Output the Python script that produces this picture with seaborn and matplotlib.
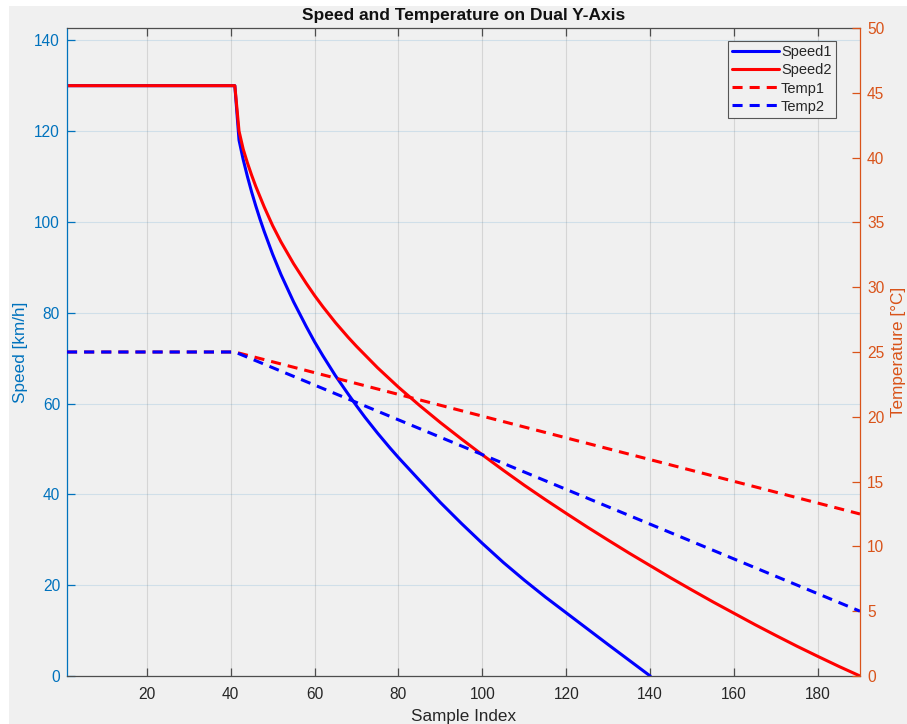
import matplotlib
matplotlib.use("Agg")
import matplotlib.pyplot as plt
import seaborn as sns
from matplotlib.patches import Rectangle

# Sample indices and values for the two speed profiles (km/h)
speed1_idx = [1, 41, 42, 43, 44, 45, 46, 47, 48, 50, 52, 55, 58, 60, 62, 65,
              68, 70, 72, 75, 78, 80, 85, 90, 95, 100, 105, 110, 115, 120,
              125, 130, 135, 140]
speed1 = [130, 130, 118, 113.7, 110, 106.6, 103.5, 100.6, 97.9, 92.9, 88.4,
          82.4, 77.0, 73.6, 70.5, 66.1, 62.1, 59.5, 57.0, 53.5, 50.2, 48.1,
          43.1, 38.2, 33.6, 29.2, 25.0, 21.1, 17.4, 13.9, 10.4, 6.9, 3.45, 0]

speed2_idx = [1, 41, 42, 43, 44, 45, 46, 48, 50, 52, 55, 58, 60, 62, 65, 68,
              70, 75, 80, 85, 90, 95, 100, 105, 110, 115, 120, 125, 130, 135,
              140, 145, 150, 155, 160, 165, 170, 175, 180, 185, 190]
speed2 = [130, 130, 120, 116, 113, 110.3, 107.8, 103.3, 99.2, 95.6, 90.8,
          86.5, 83.8, 81.3, 77.8, 74.6, 72.6, 67.9, 63.6, 59.6, 55.8, 52.2,
          48.7, 45.3, 42.0, 38.85, 35.8, 32.8, 29.9, 27.05, 24.3, 21.55,
          18.9, 16.3, 13.8, 11.3, 8.9, 6.55, 4.3, 2.1, 0]

# Temperatures (°C)
temp_idx = [1, 41, 190]
temp1 = [25, 25, 12.5]
temp2 = [25, 25, 5]

x_ticks = [20, 40, 60, 80, 100, 120, 140, 160, 180]
speed_ticks = [0, 20, 40, 60, 80, 100, 120, 140]
temp_ticks = [0, 5, 10, 15, 20, 25, 30, 35, 40, 45, 50]

BG = "#f0f0f0"
LEFT_C = "#0072BD"
RIGHT_C = "#D95319"
DARK = "#262626"
TICK_FS = 11.2
LABEL_FS = 12.3

sns.set_style("ticks", {"axes.facecolor": BG, "figure.facecolor": BG})
plt.rcParams["font.family"] = ["Liberation Sans", "DejaVu Sans"]
plt.rcParams["font.size"] = 11

fig = plt.figure(figsize=(9.07, 7.24), dpi=100, facecolor=BG)
ax = fig.add_axes([67 / 907, 1 - 676 / 724, 793 / 907, 648 / 724])
ax.set_facecolor(BG)
ax2 = ax.twinx()

solid_lw = 2.2
dash_style = (0, (3.3, 2.3))

sns.lineplot(x=speed1_idx, y=speed1, ax=ax, color="#0000ff", lw=solid_lw,
             label="Speed1", legend=False, sort=False, estimator=None)
sns.lineplot(x=speed2_idx, y=speed2, ax=ax, color="#ff0000", lw=solid_lw,
             label="Speed2", legend=False, sort=False, estimator=None)
sns.lineplot(x=temp_idx, y=temp1, ax=ax2, color="#ff0000", lw=solid_lw,
             linestyle=dash_style, label="Temp1", legend=False, sort=False,
             estimator=None)
sns.lineplot(x=temp_idx, y=temp2, ax=ax2, color="#0000ff", lw=solid_lw,
             linestyle=dash_style, label="Temp2", legend=False, sort=False,
             estimator=None)

for line in ax.get_lines() + ax2.get_lines():
    line.set_solid_joinstyle("round")

ax.set_xlim(1, 190)
ax.set_ylim(0, 142.7)
ax2.set_ylim(0, 50)
ax.set_xticks(x_ticks)
ax.set_yticks(speed_ticks)
ax2.set_yticks(temp_ticks)

# Grid: vertical lines neutral grey, horizontal lines tinted like the left axis
ax.grid(axis="x", color=DARK, alpha=0.13, lw=0.8)
ax.grid(axis="y", color=LEFT_C, alpha=0.13, lw=0.8)
ax.set_axisbelow(True)

# Spines and ticks
for side in ("top", "bottom"):
    ax.spines[side].set_color("#4d4d4d")
    ax.spines[side].set_linewidth(0.9)
ax.spines["left"].set_color(LEFT_C)
ax.spines["right"].set_visible(False)
ax2.spines["right"].set_color(RIGHT_C)
ax2.spines["left"].set_visible(False)
ax2.spines["top"].set_visible(False)
ax2.spines["bottom"].set_visible(False)
ax2.spines["right"].set_linewidth(0.9)
ax.spines["left"].set_linewidth(0.9)

ax.tick_params(axis="x", direction="in", top=True, length=5.5, width=0.9,
               color="#4d4d4d", labelcolor=DARK, labelsize=TICK_FS, pad=8)
ax.tick_params(axis="y", direction="in", length=5.5, width=0.9,
               color=LEFT_C, labelcolor=LEFT_C, labelsize=TICK_FS, pad=5)
ax2.tick_params(axis="y", direction="in", length=5.5, width=0.9,
                color=RIGHT_C, labelcolor=RIGHT_C, labelsize=TICK_FS, pad=5)

ax.set_xlabel("Sample Index", color=DARK, fontsize=LABEL_FS, labelpad=5)
ax.set_ylabel("Speed [km/h]", color=LEFT_C, fontsize=LABEL_FS)
ax.yaxis.set_label_coords(-0.049, 0.5)
ax2.set_ylabel("Temperature [°C]", color=RIGHT_C, fontsize=LABEL_FS)
ax2.yaxis.set_label_coords(1.039, 0.5)
ax.set_title("Speed and Temperature on Dual Y-Axis", fontsize=12.5,
             fontweight="bold", color="#111111", pad=6)

# Combined legend for both y-axes
h1, l1 = ax.get_legend_handles_labels()
h2, l2 = ax2.get_legend_handles_labels()
leg = ax2.legend(h1 + h2, l1 + l2, loc="upper right",
                 bbox_to_anchor=(0.9697, 0.980), borderaxespad=0,
                 fontsize=10.5, handlelength=3.2, handletextpad=0.15,
                 labelspacing=0.28, borderpad=0.3, fancybox=False,
                 frameon=True, framealpha=1)
leg.get_frame().set_facecolor(BG)
leg.get_frame().set_edgecolor("#555555")
leg.get_frame().set_linewidth(0.8)

# Thin white margin along the top and left edges of the canvas
fig.patches.append(Rectangle((0, 1 - 6 / 724), 1, 6 / 724, transform=fig.transFigure,
                             facecolor="white", edgecolor="none", zorder=-1))
fig.patches.append(Rectangle((0, 0), 9 / 907, 1, transform=fig.transFigure,
                             facecolor="white", edgecolor="none", zorder=-1))

fig.savefig("out.png", dpi=100, facecolor=BG)
